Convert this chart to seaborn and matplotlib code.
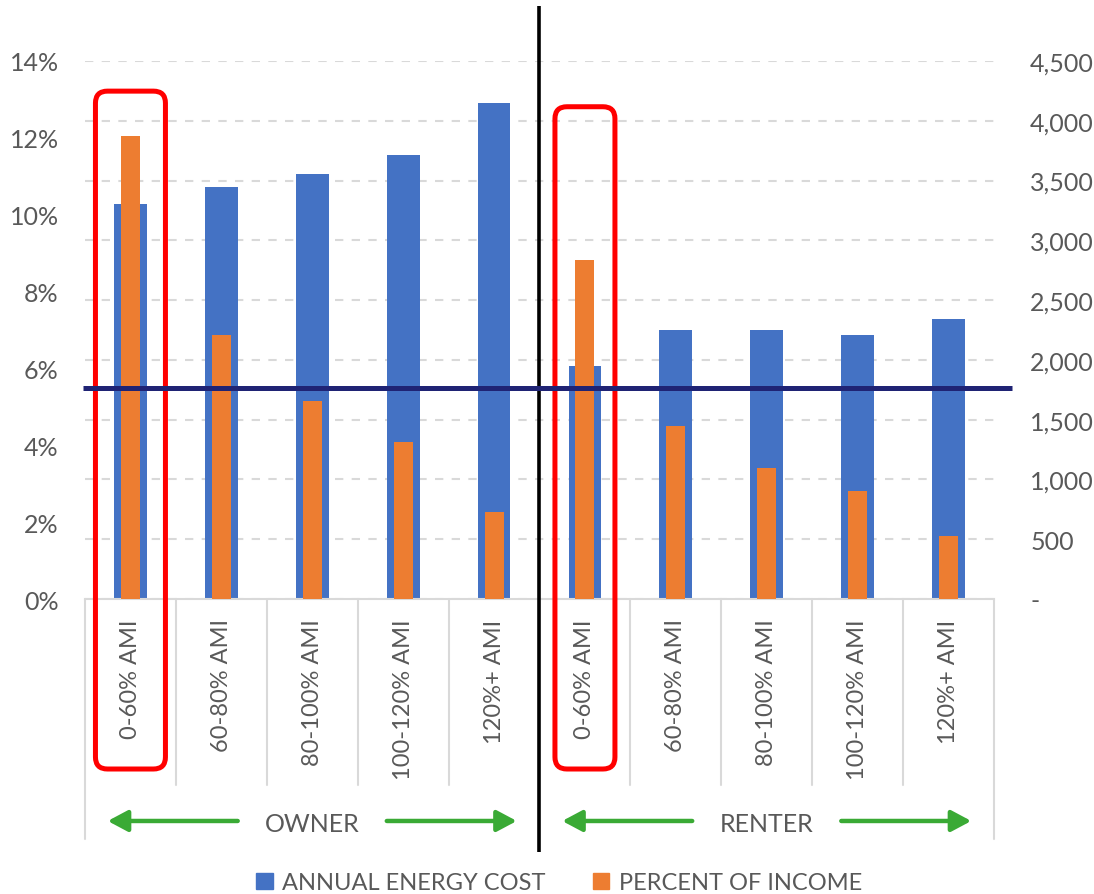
import numpy as np
import pandas as pd
import matplotlib
matplotlib.use("Agg")
import matplotlib.pyplot as plt
import seaborn as sns
from matplotlib.patches import FancyBboxPatch, Patch
from matplotlib.transforms import IdentityTransform, blended_transform_factory
from matplotlib.ticker import FuncFormatter

# ----------------------------------------------------------------------
# Data
# ----------------------------------------------------------------------
GROUPS = ["OWNER", "RENTER"]
AMI_BANDS = ["0-60% AMI", "60-80% AMI", "80-100% AMI", "100-120% AMI", "120%+ AMI"]
OWNER_COST = [3300, 3450, 3555, 3710, 4150]
RENTER_COST = [1950, 2250, 2250, 2205, 2340]
OWNER_PCT = [0.1205, 0.0686, 0.0515, 0.0408, 0.0226]
RENTER_PCT = [0.0881, 0.0450, 0.0341, 0.0281, 0.0163]
BURDEN_LINE = 0.055
HIGHLIGHT_BAND = "0-60% AMI"

COST_TICKS = np.arange(0, 4501, 500)
PCT_TICKS = np.arange(0, 0.1401, 0.02)

# ----------------------------------------------------------------------
# Colours
# ----------------------------------------------------------------------
BLUE = "#4472C4"
ORANGE = "#ED7D31"
NAVY = "#1F2374"
RED = "#FF0000"
GREEN = "#3AAA35"
GRID = "#D9D9D9"
TEXT = "#595959"

sns.set_theme(style="white")
plt.rcParams["font.family"] = ["Lato", "DejaVu Sans"]
plt.rcParams["text.color"] = TEXT

df = pd.DataFrame({
    "group": np.repeat(GROUPS, len(AMI_BANDS)),
    "band": AMI_BANDS * len(GROUPS),
    "cost": OWNER_COST + RENTER_COST,
    "pct": OWNER_PCT + RENTER_PCT,
})
df["slot"] = df["group"] + " " + df["band"]
order = list(df["slot"])

W, H = 1094, 895
fig = plt.figure(figsize=(W / 100, H / 100), dpi=100)
ax = fig.add_axes([85 / W, 295 / H, 909 / W, 538 / H])
ax2 = ax.twinx()

sns.barplot(data=df, x="slot", y="cost", order=order, color=BLUE, saturation=1,
            width=0.36, errorbar=None, linewidth=0, ax=ax)
sns.barplot(data=df, x="slot", y="pct", order=order, color=ORANGE, saturation=1,
            width=0.21, errorbar=None, linewidth=0, ax=ax2)

n = len(order)
ax.set_xlim(-0.5, n - 0.5)
ax.set_ylim(0, COST_TICKS[-1])
ax2.set_ylim(0, PCT_TICKS[-1])
for a in (ax, ax2):
    a.set_xlabel("")
    a.set_ylabel("")
    for s in a.spines.values():
        s.set_visible(False)

# cost axis on the right, percent axis on the left
ax.yaxis.tick_right()
ax2.yaxis.tick_left()
ax.set_yticks(COST_TICKS)
ax.yaxis.set_major_formatter(FuncFormatter(lambda v, p: "-" if v == 0 else f"{v:,.0f}"))
ax2.set_yticks(PCT_TICKS)
ax2.yaxis.set_major_formatter(FuncFormatter(lambda v, p: f"{v * 100:.0f}%"))
ax.tick_params(axis="y", length=0, pad=26, labelsize=18, labelcolor=TEXT)
ax2.tick_params(axis="y", length=0, pad=19, labelsize=18, labelcolor=TEXT)

ax.set_xticks(range(n))
ax.set_xticklabels(list(df["band"]), rotation=90)
ax.tick_params(axis="x", length=0, pad=14, labelsize=17, labelcolor=TEXT)

ax.set_axisbelow(True)
ax.yaxis.grid(True, color=GRID, linestyle=(0, (4, 4)), linewidth=1.5)
ax.spines["bottom"].set_visible(True)
ax.spines["bottom"].set_color(GRID)
ax.spines["bottom"].set_linewidth(1.5)

# category table lines
blend = blended_transform_factory(ax.transData, ax.transAxes)
per_group = len(AMI_BANDS)
for b in np.arange(-0.5, n):
    if b in (-0.5, n - 0.5):
        ax.plot([b, b], [0, -0.446], transform=blend, color=GRID, lw=1.5, clip_on=False)
    elif (b + 0.5) % per_group != 0:
        ax.plot([b, b], [0, -0.346], transform=blend, color=GRID, lw=1.5, clip_on=False)

# group labels with arrows
for g, name in enumerate(GROUPS):
    c = g * per_group + (per_group - 1) / 2
    ax.text(c, -0.418, name, transform=blend, ha="center", va="center",
            fontsize=18, color=TEXT)
    for sign in (-1, 1):
        ax.annotate("", xy=(c + sign * 2.25, -0.4126), xytext=(c + sign * 0.82, -0.4126),
                    xycoords=blend, textcoords=blend, annotation_clip=False,
                    arrowprops=dict(arrowstyle="-|>,head_length=0.6,head_width=0.32",
                                    color=GREEN, lw=3.2, mutation_scale=20,
                                    shrinkA=0, shrinkB=0))

# red highlight boxes around the lowest income band
blend2 = blended_transform_factory(ax2.transData, ax2.transAxes)
box_specs = [(0.385, 0.944), (0.33, 0.915)]
for g, (half, top) in enumerate(box_specs):
    i = order.index(f"{GROUPS[g]} {HIGHLIGHT_BAND}")
    x0, y0 = blend2.transform((i - half, -0.316))
    x1, y1 = blend2.transform((i + half, top))
    box = FancyBboxPatch((x0, y0), x1 - x0, y1 - y0,
                         boxstyle="round,pad=0,rounding_size=12",
                         transform=IdentityTransform(), fill=False,
                         ec=RED, lw=3.6, clip_on=False, zorder=4)
    ax2.add_artist(box)

# owner / renter divider
ax2.plot([per_group - 0.5] * 2, [1.102, -0.470], transform=blend2, color="black",
         lw=2.6, clip_on=False, solid_capstyle="butt", zorder=5)

# energy burden line
hblend = blended_transform_factory(ax2.transAxes, ax2.transData)
ax2.plot([-0.002, 1.0197], [BURDEN_LINE, BURDEN_LINE], transform=hblend, color=NAVY,
         lw=3.6, clip_on=False, solid_capstyle="butt", zorder=6)

handles = [Patch(color=BLUE), Patch(color=ORANGE)]
fig.legend(handles, ["ANNUAL ENERGY COST", "PERCENT OF INCOME"], loc="center",
           bbox_to_anchor=(0.511, 0.0123), ncol=2, frameon=False, fontsize=17,
           handlelength=0.7, handleheight=0.7, handletextpad=0.4, columnspacing=2.0,
           labelcolor=TEXT)

fig.savefig("out.png", dpi=100)
